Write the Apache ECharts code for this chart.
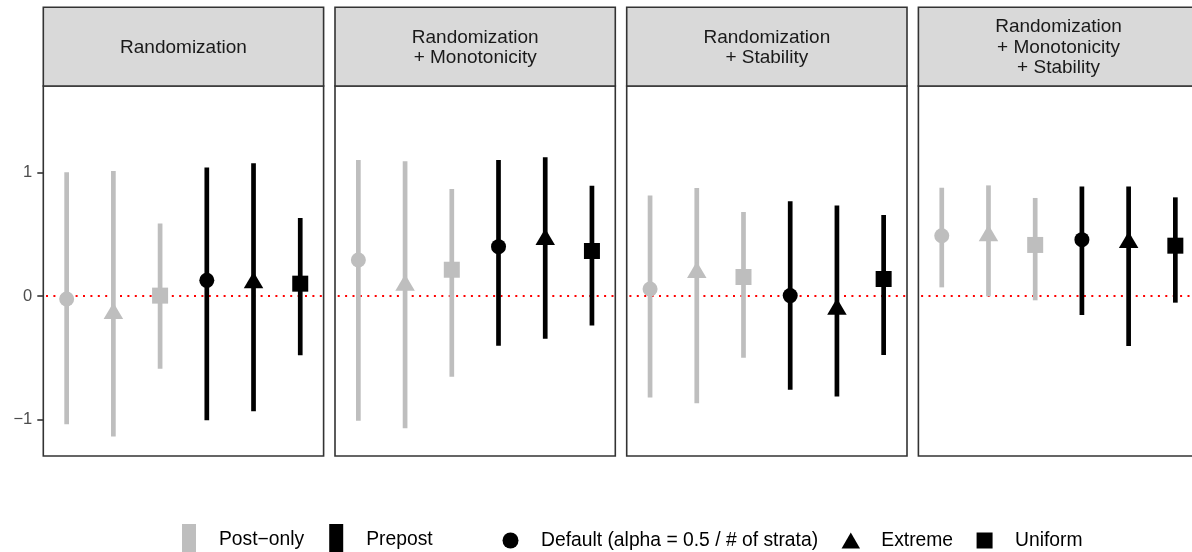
<!DOCTYPE html>
<html>
<head>
<meta charset="utf-8">
<script src="https://cdn.jsdelivr.net/npm/echarts@6/dist/echarts.min.js"></script>
<style>
html,body{margin:0;padding:0;background:#fff;}
#chart{width:1192px;height:552px;}
</style>
</head>
<body>
<div id="chart"></div>
<script>
// ---- data ----
const panelTitles = [
  'Randomization',
  'Randomization\n+ Monotonicity',
  'Randomization\n+ Stability',
  'Randomization\n+ Monotonicity\n+ Stability'
];
const designs = ['Post\u2212only', 'Prepost'];
const shapes = ['Default (alpha = 0.5 / # of strata)', 'Extreme', 'Uniform'];
// six positions per panel: design x shape
const categories = ['Post-only Default', 'Post-only Extreme', 'Post-only Uniform',
                    'Prepost Default', 'Prepost Extreme', 'Prepost Uniform'];
const catDesign = [0, 0, 0, 1, 1, 1];
const catShape = [0, 1, 2, 0, 1, 2];

const estimate = [
  [-0.024, -0.142, 0.003, 0.127, 0.107, 0.100],
  [0.292, 0.088, 0.213, 0.400, 0.458, 0.365],
  [0.057, 0.190, 0.154, 0.003, -0.107, 0.138],
  [0.489, 0.488, 0.414, 0.457, 0.434, 0.408]
];
const lower = [
  [-1.040, -1.140, -0.590, -1.008, -0.935, -0.480],
  [-1.011, -1.073, -0.654, -0.403, -0.346, -0.240],
  [-0.824, -0.870, -0.500, -0.760, -0.816, -0.478],
  [0.070, -0.003, -0.035, -0.154, -0.405, -0.054]
];
const upper = [
  [1.003, 1.013, 0.587, 1.043, 1.076, 0.633],
  [1.103, 1.092, 0.868, 1.103, 1.125, 0.895],
  [0.814, 0.876, 0.681, 0.768, 0.733, 0.657],
  [0.878, 0.897, 0.795, 0.887, 0.887, 0.800]
];
const yTicks = [-1, 0, 1];
const refValue = 0;

// ---- styling / layout ----
const FONT = '"Liberation Sans", Arial, sans-serif';
const designColors = ['#BEBEBE', '#000000'];
const symbols = ['circle', 'triangle', 'rect'];
const symbolSizes = [15, [19.5, 16.5], 16];
const symbolOffsets = [[0, 0], [0, -16.5 / 6], [0, 0]];
const gridLeft0 = 43.3, gridStep = 291.7, gridWidth = 280.3;
const gridTop = 86, gridHeight = 370;
const stripTop = 7.3;
const yMin = -1.2976, yMax = 1.703;
const W = 1192;

const grids = [], xAxes = [], yAxes = [], series = [], graphics = [];

for (let p = 0; p < panelTitles.length; p++) {
  const left = gridLeft0 + p * gridStep;
  grids.push({
    left: left, top: gridTop, right: W - left - gridWidth, height: gridHeight,
    outerBoundsMode: 'none',
    show: true, borderColor: '#333333', borderWidth: 1.6, backgroundColor: '#fff',
    containLabel: false
  });
  xAxes.push({
    type: 'category', gridIndex: p, data: categories, boundaryGap: true,
    axisLabel: {show: false}, axisTick: {show: false}, axisLine: {show: false},
    splitLine: {show: false}
  });
  yAxes.push({
    type: 'value', gridIndex: p, min: yMin, max: yMax,
    axisLine: {show: false},
    splitLine: {show: false},
    axisTick: {show: p === 0, customValues: yTicks, length: 6,
               lineStyle: {color: '#333333', width: 1.6}},
    axisLabel: {show: p === 0, customValues: yTicks, margin: 11,
                color: '#4D4D4D', fontSize: 16.5, fontFamily: FONT,
                formatter: v => (v < 0 ? '\u2212' + Math.abs(v) : String(v))}
  });

  // reference line (drawn under everything)
  series.push({
    type: 'custom', xAxisIndex: p, yAxisIndex: p, silent: true, z: 1,
    encode: {x: 0, y: 1},
    data: [[0, refValue]],
    renderItem: function (params, api) {
      const cs = params.coordSys;
      const y = api.coord([0, api.value(1)])[1];
      return {
        type: 'line',
        shape: {x1: cs.x, y1: y, x2: cs.x + cs.width, y2: y},
        style: {stroke: '#FF0000', lineWidth: 2, lineDash: [2, 5.4], lineDashOffset: -2.7}
      };
    }
  });

  // intervals per design
  for (let d = 0; d < designs.length; d++) {
    const idx = [];
    for (let i = 0; i < categories.length; i++) if (catDesign[i] === d) idx.push(i);
    const color = designColors[d];
    series.push({
      type: 'custom', name: designs[d], xAxisIndex: p, yAxisIndex: p, z: 8,
      itemStyle: {color: color},
      encode: {x: 0, y: [1, 2]},
      data: idx.map(i => [i, lower[p][i], upper[p][i]]),
      renderItem: function (params, api) {
        const x = api.value(0);
        const a = api.coord([x, api.value(1)]);
        const b = api.coord([x, api.value(2)]);
        return {
          type: 'line',
          shape: {x1: a[0], y1: a[1], x2: b[0], y2: b[1]},
          style: {stroke: color, lineWidth: 4.7, lineCap: 'butt'}
        };
      }
    });
  }

  // points per shape
  for (let s = 0; s < shapes.length; s++) {
    const data = [];
    for (let i = 0; i < categories.length; i++) {
      if (catShape[i] !== s) continue;
      data.push({value: [i, estimate[p][i]], itemStyle: {color: designColors[catDesign[i]]}});
    }
    series.push({
      type: 'scatter', name: shapes[s], xAxisIndex: p, yAxisIndex: p, z: 10,
      symbol: symbols[s], symbolSize: symbolSizes[s], symbolOffset: symbolOffsets[s],
      itemStyle: {color: '#000000', opacity: 1},
      data: data
    });
  }

  // facet strip
  graphics.push({
    type: 'rect', silent: true,
    shape: {x: left, y: stripTop, width: gridWidth, height: gridTop - stripTop},
    style: {fill: '#D9D9D9', stroke: '#333333', lineWidth: 1.6}
  });
  graphics.push({
    type: 'text', silent: true,
    x: left + gridWidth / 2, y: (stripTop + gridTop) / 2 + 1,
    style: {text: panelTitles[p], fill: '#1A1A1A', fontSize: 19, fontFamily: FONT,
            lineHeight: 20.5, align: 'center', verticalAlign: 'middle'}
  });
}

const chart = echarts.init(document.getElementById('chart'), null, {renderer: 'canvas'});
chart.setOption({
  animation: false,
  backgroundColor: '#ffffff',
  grid: grids,
  xAxis: xAxes,
  yAxis: yAxes,
  legend: [
    {
      left: 182, top: 524, padding: 0, orient: 'horizontal',
      selectedMode: false, itemGap: 25, itemWidth: 14, itemHeight: 32,
      textStyle: {fontSize: 19.3, fontFamily: FONT, color: '#000000', padding: [0, 0, 0, 18]},
      data: designs.map((n, d) => ({name: n, icon: 'rect', itemStyle: {color: designColors[d]}}))
    },
    {
      left: 502.5, top: 531, padding: 0, orient: 'horizontal',
      selectedMode: false, itemGap: 23.5, itemWidth: 19, itemHeight: 16,
      symbolKeepAspect: true,
      textStyle: {fontSize: 19.3, fontFamily: FONT, color: '#000000', padding: [0, 0, 0, 16]},
      data: [
        {name: shapes[0], icon: 'circle', itemStyle: {color: '#000000'}},
        {name: shapes[1], icon: 'path://M0.5,0L1,0.866L0,0.866Z', itemStyle: {color: '#000000'}},
        {name: shapes[2], icon: 'path://M0,0L1,0L1,1L0,1Z', itemStyle: {color: '#000000'}}
      ]
    }
  ],
  graphic: graphics,
  series: series
});
</script>
</body>
</html>
